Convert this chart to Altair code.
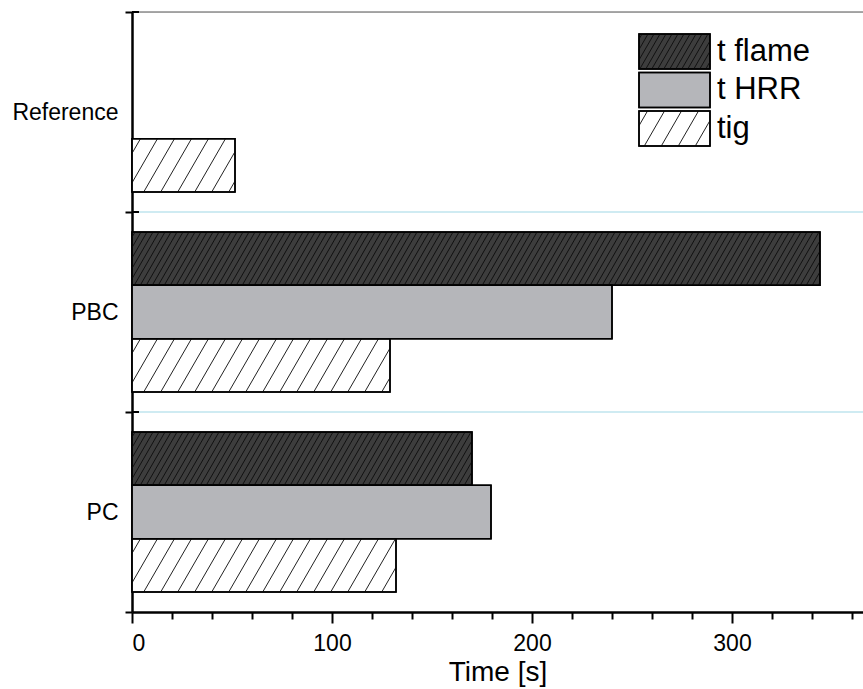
import math
import altair as alt
import pandas as pd
import numpy as np

# ---------------- data ----------------
categories = ["PC", "PBC", "Reference"]          # bottom -> top
series = ["t flame", "t HRR", "tig"]
t_flame = [170, 344, None]
t_hrr = [179.5, 240, None]
tig = [132, 129, 51.5]
x_major = [0, 100, 200, 300]

# ---------------- layout / style ----------------
W, H = 731, 600
X_MAX = 365.5
N = len(categories)
PX_X = W / X_MAX
PX_Y = H / N
PAD = 0.1
BAR_H = (1 - 2 * PAD) / len(series)
FONT = "Liberation Sans"
fills = {"t flame": "#3d3d3d", "t HRR": "#b5b6ba", "tig": "#ffffff"}
hatch = {"t flame": (6.0, "#111111"), "tig": (17.0, "#222222")}
COT = 1 / math.tan(math.radians(60))

values = {"t flame": t_flame, "t HRR": t_hrr, "tig": tig}

bar_rows = []
for i, cat in enumerate(categories):
    for j, s in enumerate(series):
        v = values[s][i]
        if v is None:
            continue
        top = i + 1 - PAD - j * BAR_H
        bar_rows.append({"cat": cat, "series": s, "x0": 0.0, "x1": v,
                         "y0": top - BAR_H, "y1": top, "fillc": fills[s]})
bars = pd.DataFrame(bar_rows)


def hatch_segments(x0, x1, y0, y1, spacing):
    """Diagonal '/' lines clipped to a rectangle given in data units."""
    wpx = (x1 - x0) * PX_X
    hpx = (y1 - y0) * PX_Y
    out = []
    c = -hpx * COT + spacing / 2
    while c < wpx:
        v_lo = max(0.0, -c / COT)
        v_hi = min(hpx, (wpx - c) / COT)
        if v_hi > v_lo:
            out.append({"hx": x0 + (c + v_lo * COT) / PX_X, "hy": y0 + v_lo / PX_Y,
                        "hx2": x0 + (c + v_hi * COT) / PX_X, "hy2": y0 + v_hi / PX_Y})
        c += spacing
    return out


bar_hatch_rows = []
for r in bar_rows:
    if r["series"] in hatch:
        sp, col = hatch[r["series"]]
        for seg in hatch_segments(r["x0"], r["x1"], r["y0"], r["y1"], sp):
            seg["hc"] = col
            bar_hatch_rows.append(seg)

# legend (positioned in data units derived from pixel layout)
LG_X0, LG_X1 = 507 / PX_X, 578 / PX_X
leg_rows, leg_text, leg_hatch_rows = [], [], []
for j, s in enumerate(series):
    top_px = 22 + j * 38.5
    y1 = N - top_px / PX_Y
    y0 = N - (top_px + 35) / PX_Y
    leg_rows.append({"series": s, "x0": LG_X0, "x1": LG_X1, "y0": y0, "y1": y1,
                     "fillc": fills[s]})
    leg_text.append({"series": s, "tx": 585 / PX_X, "ty": (y0 + y1) / 2})
    if s in hatch:
        sp, col = hatch[s]
        for seg in hatch_segments(LG_X0, LG_X1, y0, y1, sp):
            seg["hc"] = col
            leg_hatch_rows.append(seg)
legend_df = pd.DataFrame(leg_rows)
legend_txt = pd.DataFrame(leg_text)
bar_hatches = pd.DataFrame(bar_hatch_rows)
leg_hatches = pd.DataFrame(leg_hatch_rows)

# category boundaries
bounds = pd.DataFrame({"yb": list(range(1, N + 1))})
bounds["lc"] = ["#bfe4ee"] * (N - 1) + ["#8c8c8c"]
bounds["xa"] = 0.0
bounds["xb"] = 7 / PX_X
bounds["xe"] = X_MAX

xs = alt.Scale(domain=[0, X_MAX], nice=False, zero=False)
ys = alt.Scale(domain=[0, N], nice=False, zero=False)

label_expr = " : ".join(
    [f"datum.value == {i + 0.5} ? '{c}'" for i, c in enumerate(categories)]) + " : ''"

x_axis = alt.Axis(
    values=list(range(0, 361, 20)),
    labelExpr="datum.value % 100 === 0 ? datum.label : ''",
    tickSize={"condition": {"test": "datum.value % 100 === 0", "value": 11}, "value": 7},
    grid=False, domainColor="black", domainWidth=2.5, tickColor="black", tickWidth=2,
    labelFont=FONT, labelFontSize=23, labelColor="black", labelPadding=9,
    title="Time [s]", titleFont=FONT, titleFontSize=28, titleFontWeight="normal",
    titleColor="black", titlePadding=3,
)
y_axis = alt.Axis(
    values=[k / 2 for k in range(0, 2 * N + 1)],
    labelExpr=label_expr,
    tickOpacity={"condition": {"test": "datum.value % 1 !== 0", "value": 0}, "value": 1},
    tickSize=7, tickColor="black", tickWidth=2,
    grid=False, domainColor="black", domainWidth=2.5,
    labelFont=FONT, labelFontSize=23, labelColor="black", labelPadding=7,
    title=None,
)

grid_lines = alt.Chart(bounds).mark_rule(strokeWidth=1.5).encode(
    x=alt.X("xb:Q", scale=xs, axis=x_axis),
    x2="xe:Q",
    y=alt.Y("yb:Q", scale=ys, axis=y_axis),
    color=alt.Color("lc:N", scale=None),
)
inner_ticks = alt.Chart(bounds).mark_rule(strokeWidth=2, color="black").encode(
    x="xa:Q", x2="xb:Q", y="yb:Q",
)

bar_layer = alt.Chart(bars).mark_rect(stroke="black", strokeWidth=1.5).encode(
    x="x0:Q", x2="x1:Q", y="y0:Q", y2="y1:Q",
    fill=alt.Fill("fillc:N", scale=None),
)
bar_hatch_layer = alt.Chart(bar_hatches).mark_rule(strokeWidth=1).encode(
    x="hx:Q", x2="hx2:Q", y="hy:Q", y2="hy2:Q",
    color=alt.Color("hc:N", scale=None),
)
bar_outline = alt.Chart(bars).mark_rect(stroke="black", strokeWidth=1.5, fillOpacity=0).encode(
    x="x0:Q", x2="x1:Q", y="y0:Q", y2="y1:Q",
)
legend_rect = alt.Chart(legend_df).mark_rect(stroke="black", strokeWidth=1.5).encode(
    x="x0:Q", x2="x1:Q", y="y0:Q", y2="y1:Q",
    fill=alt.Fill("fillc:N", scale=None),
)
leg_hatch_layer = alt.Chart(leg_hatches).mark_rule(strokeWidth=1).encode(
    x="hx:Q", x2="hx2:Q", y="hy:Q", y2="hy2:Q",
    color=alt.Color("hc:N", scale=None),
)
legend_outline = alt.Chart(legend_df).mark_rect(stroke="black", strokeWidth=1.5, fillOpacity=0).encode(
    x="x0:Q", x2="x1:Q", y="y0:Q", y2="y1:Q",
)
legend_label = alt.Chart(legend_txt).mark_text(
    align="left", baseline="middle", font=FONT, fontSize=31, color="black"
).encode(x="tx:Q", y="ty:Q", text="series:N")

chart = alt.layer(
    grid_lines, inner_ticks, bar_layer, bar_hatch_layer, bar_outline,
    legend_rect, leg_hatch_layer, legend_outline, legend_label,
).properties(
    width=W, height=H,
    autosize=alt.AutoSizeParams(type="none"),
    padding={"left": 132, "top": 12, "right": 0, "bottom": 77},
).configure_view(strokeWidth=0).configure(background="white")

chart.save("out.html", embed_options={"renderer": "svg", "actions": False})
